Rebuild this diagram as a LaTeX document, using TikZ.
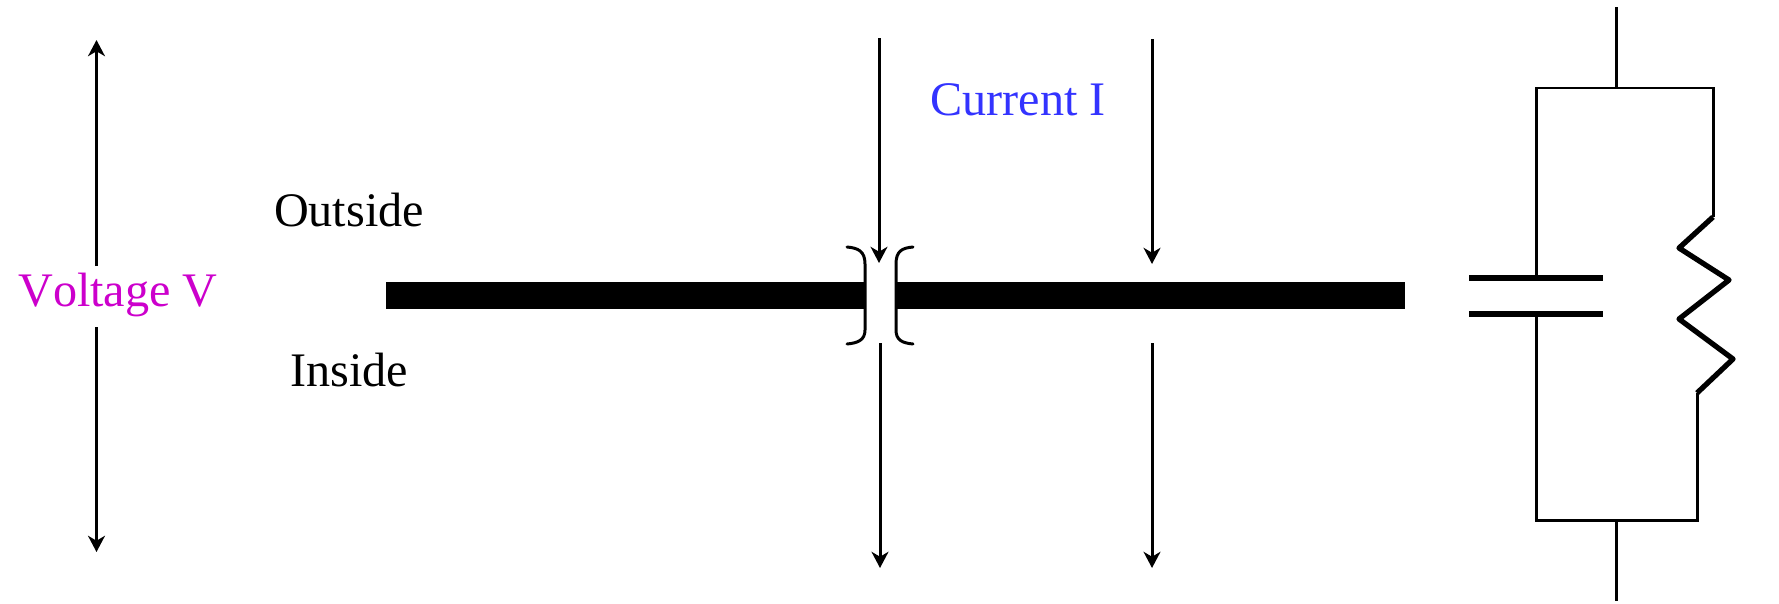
\documentclass[tikz,border=0pt]{standalone}
\usepackage{fontspec}
\setmainfont[Kerning=Off]{Liberation Serif}
\usetikzlibrary{arrows.meta}
\definecolor{voltcol}{RGB}{204,0,204}
\definecolor{currcol}{RGB}{51,51,255}
\tikzset{
  lbl/.style={anchor=base, inner sep=0pt, font=\fontsize{13.7pt}{16pt}\selectfont},
  wire/.style={line width=0.85pt, line cap=butt},
  flow/.style={line width=0.85pt, -{Stealth[length=4.6pt, width=4.8pt, inset=1.4pt]}},
  plate/.style={line width=1.7pt},
  zigzag/.style={line width=1.5pt, line join=round},
  pore/.style={line width=0.85pt, line cap=round},
}
\begin{document}
\begin{tikzpicture}[x=0.01cm, y=-0.01cm]
    \useasboundingbox (0,0) rectangle (1779,603);
    % Labels
    \node[lbl, text=voltcol] (voltage) at (118,306) {Voltage V};
    \node[lbl, text=currcol] (current) at (1018,115) {Current I};
    \node[lbl] (outside) at (349,226) {Outside};
    \node[lbl] (inside) at (349,386) {Inside};
    % Voltage arrows
    \coordinate (vtop) at (96.5,40);
    \coordinate (vupper) at (96.5,266);
    \coordinate (vlower) at (96.5,327);
    \coordinate (vbot) at (96.5,552);
    \draw[flow] (vupper) -- (vtop);
    \draw[flow] (vlower) -- (vbot);
    % Membrane
    \fill (386,282) rectangle (864,309);
    \fill (897,282) rectangle (1405,309);
    % Pore
    \draw[pore] (847,247) .. controls (858,248) and (865,251) .. (865,264) -- (865,330) .. controls (865,340) and (858,343) .. (847,344);
    \draw[pore] (913,247) .. controls (902,248) and (896,251) .. (896,264) -- (896,330) .. controls (896,340) and (902,343) .. (913,344);
    % Current arrows
    \coordinate (pa) at (879,38);
    \coordinate (pb) at (879,263);
    \coordinate (pc) at (880,343);
    \coordinate (pd) at (880,568);
    \coordinate (la) at (1152,39);
    \coordinate (lb) at (1152,264);
    \coordinate (lc) at (1152,343);
    \coordinate (ld) at (1152,568);
    \draw[flow] (pa) -- (pb);
    \draw[flow] (pc) -- (pd);
    \draw[flow] (la) -- (lb);
    \draw[flow] (lc) -- (ld);
    % Capacitor
    \coordinate (captop) at (1536,278);
    \coordinate (capbot) at (1536,314);
    \draw[plate] (1469,278) -- (1603,278);
    \draw[plate] (1469,314) -- (1603,314);
    % Circuit
    \coordinate (railtop) at (1616,88);
    \coordinate (railbot) at (1616,520);
    \coordinate (rtop) at (1713,217);
    \coordinate (rbot) at (1697,393);
    \draw[wire] (1616,7) -- (railtop);
    \draw[wire] (railbot) -- (1616,601);
    \draw[wire] (captop) |- (railtop) -| (rtop);
    \draw[wire] (capbot) |- (railbot) -| (rbot);
    % Resistor
    \draw[zigzag] (rtop) -- (1679,248) -- (1729,280) -- (1679,319) -- (1733,359) -- (rbot);
\end{tikzpicture}
\end{document}
